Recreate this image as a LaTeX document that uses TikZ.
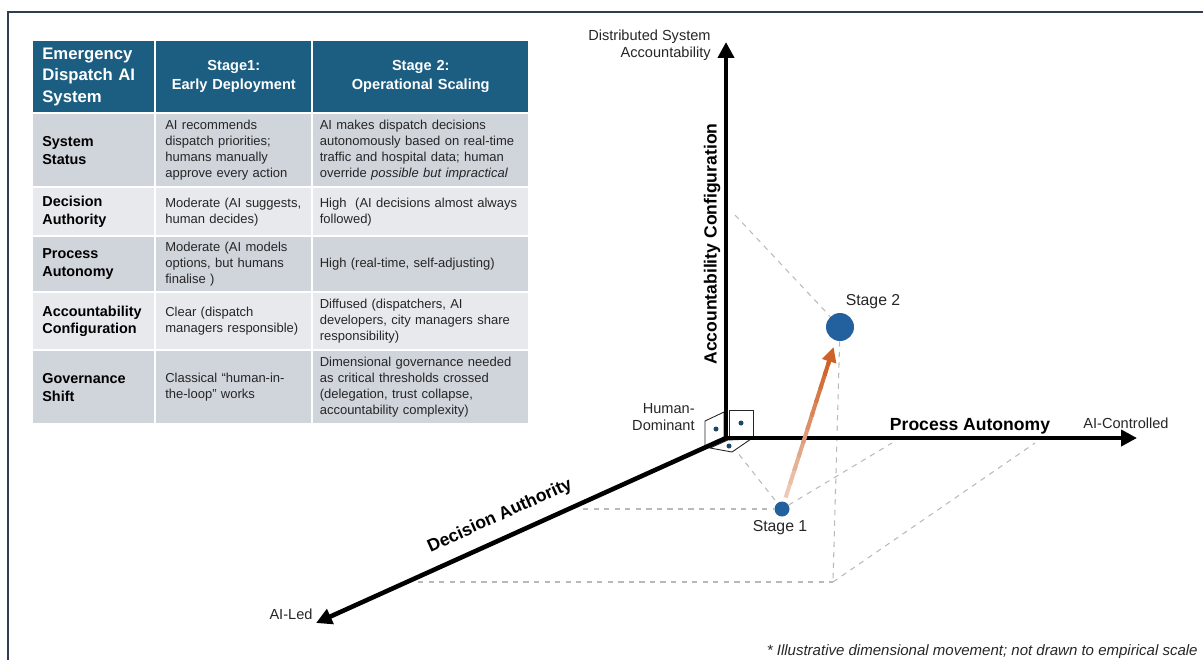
\documentclass[tikz,border=0pt]{standalone}
\usepackage{fontspec}
\setmainfont{Liberation Sans}
\usetikzlibrary{matrix,positioning,calc,arrows.meta}

\definecolor{headblue}{RGB}{28,94,130}
\definecolor{rowgray}{RGB}{208,212,219}
\definecolor{rowlight}{RGB}{232,233,237}
\definecolor{framecol}{RGB}{47,62,78}
\definecolor{dotblue}{RGB}{35,96,158}
\definecolor{cubedot}{RGB}{28,72,104}
\definecolor{arroworange}{RGB}{204,98,40}
\definecolor{guidegray}{RGB}{185,185,185}
\definecolor{bodytext}{RGB}{38,38,38}

\begin{document}
\begin{tikzpicture}[
        x=0.02cm, y=-0.02cm,
        cell/.style={
          rectangle,
          inner xsep=0.18cm,
          inner ysep=0.04cm,
          anchor=center,
          align=left,
          text=bodytext,
          font=\fontsize{7.4}{9.1}\selectfont
          },
        tbl/.style={
          matrix of nodes,
          nodes={cell},
          column sep=0.04cm,
          row sep=0.04cm,
          column 1/.style={nodes={text width=2.06cm, text=black, font=\fontsize{8.2}{10.2}\selectfont\bfseries}},
          column 2/.style={nodes={text width=2.74cm}},
          column 3/.style={nodes={text width=4.04cm, inner xsep=0.13cm}},
          row 1/.style={nodes={fill=headblue, text=white, font=\fontsize{8.3}{10.8}\selectfont\bfseries, minimum height=1.42cm}},
          row 1 column 1/.style={nodes={font=\fontsize{9.5}{12.2}\selectfont\bfseries}},
          row 1 column 2/.style={nodes={align=center}},
          row 1 column 3/.style={nodes={align=center}},
          row 2/.style={nodes={fill=rowgray, minimum height=1.44cm}},
          row 3/.style={nodes={fill=rowlight, minimum height=0.94cm}},
          row 4/.style={nodes={fill=rowgray, minimum height=1.08cm}},
          row 5/.style={nodes={fill=rowlight, minimum height=1.12cm}},
          row 6/.style={nodes={fill=rowgray, minimum height=1.44cm}}
          },
        bigaxis/.style={
          line width=2.6pt,
          -{Triangle[width=9pt,length=9pt]}
          },
        guide/.style={draw=guidegray, dashed, line width=0.6pt},
        cubeface/.style={draw=black!85, line width=0.5pt, fill=white},
        stagedot/.style={circle, fill=dotblue, inner sep=0pt},
        axlabel/.style={font=\fontsize{8.3}{9.6}\selectfont, text=black!85, inner sep=0pt},
        axtitle/.style={font=\fontsize{10}{12}\selectfont\bfseries, inner sep=0pt},
        stagelabel/.style={font=\fontsize{9}{11}\selectfont, text=black!85, inner sep=0pt}
        ]
        \useasboundingbox (0,0) rectangle (1203,660);
        \draw[framecol, line width=1.2pt] (8,660) -- (8,12) -- (1203,12);

        \matrix[tbl, anchor=north west, inner sep=0pt] (tab) at (33,41)
        {
        {Emergency\\Dispatch AI\\System} & {Stage1:\\Early Deployment} & {Stage 2:\\Operational Scaling} \\
        {System\\Status} & {AI recommends\\dispatch priorities;\\humans manually\\approve every action} & {AI makes dispatch decisions\\autonomously based on real-time\\traffic and hospital data; human\\override \textit{possible but impractical}} \\
        {Decision\\Authority} & {Moderate (AI suggests,\\human decides)} & {High\ \ (AI decisions almost always\\followed)} \\
        {Process\\Autonomy} & {Moderate (AI models\\options, but humans\\finalise )} & {High (real-time, self-adjusting)} \\
        {Accountability\\Configuration} & {Clear (dispatch\\managers responsible)} & {Diffused (dispatchers, AI\\developers, city managers share\\responsibility)} \\
        {Governance\\Shift} & {Classical “human-in-\\the-loop” works} & {Dimensional governance needed\\as critical thresholds crossed\\(delegation, trust collapse,\\accountability complexity)} \\
        };

        \coordinate (O) at (726,438);
        \coordinate (xend) at (1137,438);
        \coordinate (yend) at (726,42);
        \coordinate (zend) at (316,623);
        \coordinate (fA) at (583,509);
        \coordinate (fB) at (418,582);
        \coordinate (fC) at (833,582);
        \coordinate (fD) at (1035,443);
        \coordinate (fE) at (892,443);
        \coordinate (fF) at (735,215);

        \node[stagedot, minimum size=0.3cm] (s1) at (782,509) {};
        \node[stagedot, minimum size=0.56cm] (s2) at (840,327) {};

        \foreach \a/\b in {fA/s1, s1/fE, O/s1, s2/fC, fB/fC, fC/fD, fF/s2}
          \draw[guide] (\a) -- (\b);

        \draw[cubeface] (705,421) -- (724,412) -- (724,440) -- (705,448) -- cycle;
        \draw[cubeface] (710,448) -- (732,452) -- (751,439) -- (728,440) -- cycle;
        \draw[cubeface] (729,410) -- (753,410) -- (753,437) -- (729,437) -- cycle;

        \draw[bigaxis] (O) -- (xend);
        \draw[bigaxis] (O) -- (yend);
        \draw[bigaxis] (O) -- (zend);

        \foreach \p in {(716,429),(741,423),(729,446)}
          \fill[cubedot] \p circle (0.05cm);

        \coordinate (arrA) at ($(s1)!0.063!(s2)$);
        \coordinate (arrB) at ($(s2)!0.11!(s1)$);
        \foreach \i [evaluate=\i as \ta using \i*0.09,
                     evaluate=\i as \tb using (\i+1.3)*0.09,
                     evaluate=\i as \c using int(35+7*\i)] in {0,...,9}
          \draw[line width=2.3pt, draw=arroworange!\c!white] ($(arrA)!\ta!(arrB)$) -- ($(arrA)!\tb!(arrB)$);
        \draw[line width=2.3pt, arroworange, -{Triangle[width=8pt,length=8.5pt]}] ($(arrA)!0.88!(arrB)$) -- (arrB);

        \node[axlabel, align=right, anchor=east] (ytop) at (711,45) {Distributed System\\Accountability};
        \node[axtitle, rotate=90] (ylab) at (712,244) {Accountability Configuration};
        \node[axtitle, anchor=base] (xlab) at (970,430) {Process Autonomy};
        \node[axlabel, anchor=base] (xtop) at (1126,428) {AI-Controlled};
        \node[axtitle, rotate=24.3] (zlab) at (500,516) {Decision Authority};
        \node[axlabel] (ztop) at (291,614) {AI-Led};
        \node[axlabel, align=right, anchor=east] (hum) at (695,417) {Human-\\Dominant};
        \node[stagelabel] (s2lab) at (873,302) {Stage 2};
        \node[stagelabel] (s1lab) at (780,528) {Stage 1};
        \node[font=\fontsize{8.55}{10}\selectfont\itshape, text=black!85, anchor=east, inner sep=0pt] (note) at (1198,652) {* Illustrative dimensional movement; not drawn to empirical scale};
    \end{tikzpicture}
\end{document}
